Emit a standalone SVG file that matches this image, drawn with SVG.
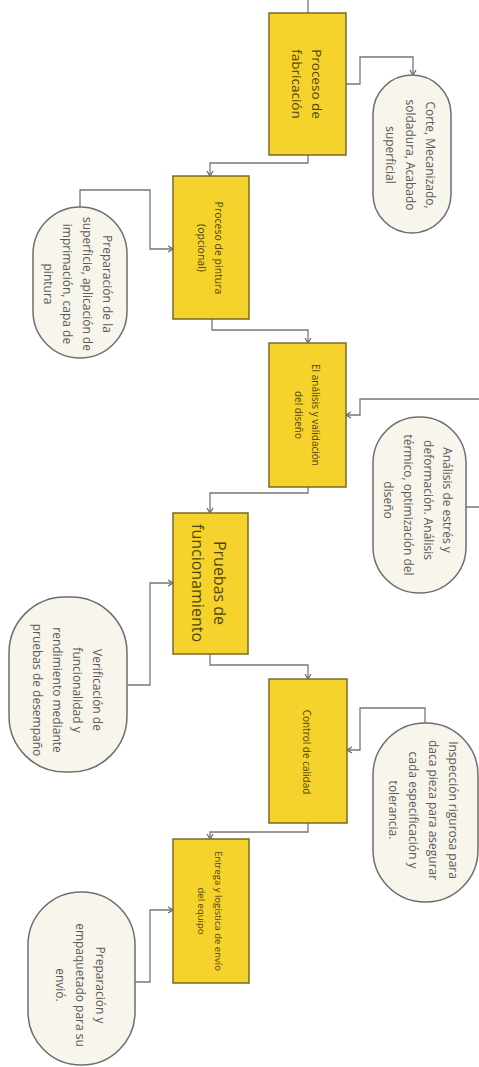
<svg xmlns="http://www.w3.org/2000/svg" width="479" height="1067" viewBox="0 0 479 1067">
<style>
.box{fill:#F6D22C;stroke:#7a6a24;stroke-width:1.5}
.pill{fill:#F7F5EC;stroke:#6e6e6e;stroke-width:1.5}
.bt{font-family:"Open Sans","Liberation Sans",sans-serif;fill:#4f4512;text-anchor:middle;dominant-baseline:central}
.pt{font-family:"Open Sans","Liberation Sans",sans-serif;fill:#5a5a5a;font-size:12px;text-anchor:middle;dominant-baseline:central}
.c{fill:none;stroke:#777;stroke-width:1.3}
</style>
<defs>
<marker id="ar" markerWidth="8" markerHeight="8" refX="6" refY="4" orient="auto" markerUnits="userSpaceOnUse">
<path d="M1,1 L6,4 L1,7" fill="none" stroke="#666" stroke-width="1.2"/>
</marker>
</defs>
<rect width="479" height="1067" fill="#ffffff"/>
<g id="connectors">
<path class="c" d="M308,0 V13"/>
<path class="c" d="M346,84 H360 V57 H413 V75" marker-end="url(#ar)"/>
<path class="c" d="M308,155 V163 H210 V176" marker-end="url(#ar)"/>
<path class="c" d="M80,207 V190 H150 V249 H173" marker-end="url(#ar)"/>
<path class="c" d="M212,319 V330 H308 V343" marker-end="url(#ar)"/>
<path class="c" d="M466,507 H482 V399 H360 V415 H346" marker-end="url(#ar)"/>
<path class="c" d="M308,487 V493 H210 V513" marker-end="url(#ar)"/>
<path class="c" d="M128,685 H150 V583 H173" marker-end="url(#ar)"/>
<path class="c" d="M210,654 V665 H308 V679" marker-end="url(#ar)"/>
<path class="c" d="M425,723 V708 H360 V750 H347" marker-end="url(#ar)"/>
<path class="c" d="M308,823 V832 H210 V839" marker-end="url(#ar)"/>
<path class="c" d="M135,982 H150 V910 H173" marker-end="url(#ar)"/>
</g>
<g id="box1">
<rect class="box" x="269" y="13" width="77" height="142"/>
<text class="bt" font-size="13.5" transform="translate(317,84) rotate(90)">Proceso de</text>
<text class="bt" font-size="13.5" transform="translate(297,84) rotate(90)">fabricación</text>
</g>
<g id="pill1">
<rect class="pill" x="373" y="75" width="78" height="158" rx="39"/>
<text class="pt" transform="translate(430,155) rotate(90)">Corte, Mecanizado,</text>
<text class="pt" transform="translate(410,155) rotate(90)">soldadura, Acabado</text>
<text class="pt" transform="translate(390,155) rotate(90)">superficial</text>
</g>
<g id="box2">
<rect class="box" x="173" y="176" width="76" height="143"/>
<text class="bt" font-size="10.5" transform="translate(219,248) rotate(90)">Proceso de pintura</text>
<text class="bt" font-size="10.5" transform="translate(202,248) rotate(90)">(opcional)</text>
</g>
<g id="pill2">
<rect class="pill" x="33" y="207" width="94" height="151" rx="47"/>
<text class="pt" transform="translate(107,284) rotate(90)">Preparación de la</text>
<text class="pt" transform="translate(87,284) rotate(90)">superficie, aplicación de</text>
<text class="pt" transform="translate(67,284) rotate(90)">imprimación, capa de</text>
<text class="pt" transform="translate(48,284) rotate(90)">pintura</text>
</g>
<g id="box3">
<rect class="box" x="269" y="343" width="77" height="144"/>
<text class="bt" font-size="10" transform="translate(316,415) rotate(90)">El análisis y validación</text>
<text class="bt" font-size="10" transform="translate(299,415) rotate(90)">del diseño</text>
</g>
<g id="pill3">
<rect class="pill" x="373" y="417" width="93" height="176" rx="46"/>
<text class="pt" transform="translate(447,500) rotate(90)">Análisis de estrés y</text>
<text class="pt" transform="translate(428,500) rotate(90)">deformación. Análisis</text>
<text class="pt" transform="translate(408,505) rotate(90)">térmico, optimización del</text>
<text class="pt" transform="translate(388,500) rotate(90)">diseño</text>
</g>
<g id="box4">
<rect class="box" x="173" y="513" width="75" height="141"/>
<text class="bt" font-size="16" transform="translate(220,583) rotate(90)">Pruebas de</text>
<text class="bt" font-size="16" transform="translate(198,583) rotate(90)">funcionamiento</text>
</g>
<g id="pill4">
<rect class="pill" x="9" y="597" width="118" height="175" rx="56"/>
<text class="pt" transform="translate(97,690) rotate(90)">Verificación de</text>
<text class="pt" transform="translate(77,690) rotate(90)">funcionalidad y</text>
<text class="pt" transform="translate(57,690) rotate(90)">rendimiento mediante</text>
<text class="pt" transform="translate(37,690) rotate(90)">pruebas de desempaño</text>
</g>
<g id="box5">
<rect class="box" x="269" y="679" width="78" height="144"/>
<text class="bt" font-size="10" transform="translate(307,752) rotate(90)">Control de calidad</text>
</g>
<g id="pill5">
<rect class="pill" x="373" y="723" width="105" height="179" rx="52"/>
<text class="pt" transform="translate(453,810) rotate(90)">Inspección rigurosa para</text>
<text class="pt" transform="translate(433,810) rotate(90)">daca pieza para asegurar</text>
<text class="pt" transform="translate(413,810) rotate(90)">cada especificación y</text>
<text class="pt" transform="translate(393,810) rotate(90)">tolerancia.</text>
</g>
<g id="box6">
<rect class="box" x="173" y="839" width="76" height="144"/>
<text class="bt" font-size="9.5" transform="translate(218,911) rotate(90)">Entrega y logística de envío</text>
<text class="bt" font-size="9.5" transform="translate(201,911) rotate(90)">del equipo</text>
</g>
<g id="pill6">
<rect class="pill" x="28" y="892" width="107" height="173" rx="53"/>
<text class="pt" transform="translate(100,985) rotate(90)">Preparación y</text>
<text class="pt" transform="translate(80,985) rotate(90)">empaquetado para su</text>
<text class="pt" transform="translate(60,985) rotate(90)">envió.</text>
</g>
</svg>
